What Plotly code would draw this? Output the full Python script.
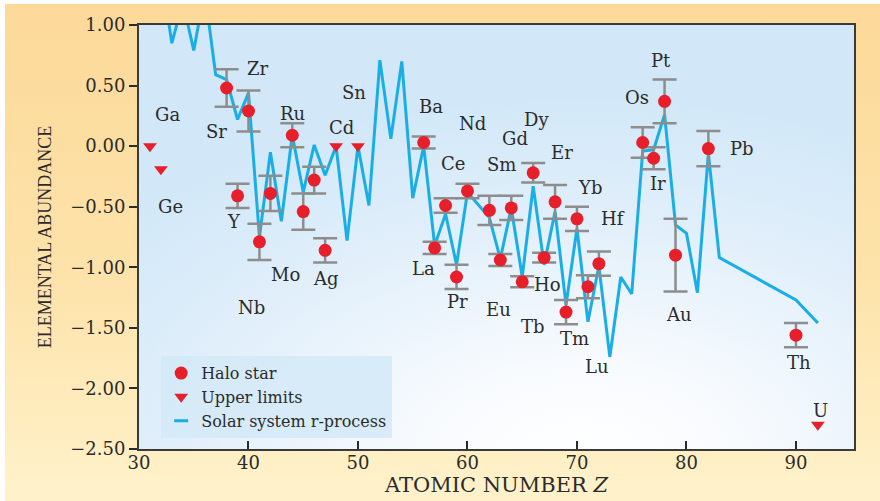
import base64
import plotly.graph_objects as go

# Halo star abundances with their uncertainties
halo_z = [38, 39, 40, 41, 42, 44, 45, 46, 47, 56, 57, 58, 59, 60, 62, 63, 64, 65,
          66, 67, 68, 69, 70, 71, 72, 76, 77, 78, 79, 82, 90]
halo_abund = [0.48, -0.41, 0.29, -0.79, -0.39, 0.09, -0.54, -0.28, -0.86, 0.03, -0.84,
              -0.49, -1.08, -0.37, -0.53, -0.94, -0.51, -1.12, -0.22, -0.92, -0.46,
              -1.37, -0.60, -1.16, -0.97, 0.03, -0.10, 0.37, -0.90, -0.02, -1.56]
halo_err = [0.155, 0.10, 0.17, 0.15, 0.145, 0.10, 0.15, 0.11, 0.10, 0.05, 0.05,
            0.06, 0.10, 0.06, 0.12, 0.05, 0.10, 0.045, 0.08, 0.04, 0.14,
            0.10, 0.10, 0.095, 0.10, 0.125, 0.09, 0.18, 0.30, 0.145, 0.10]

# Upper limits (Ga, Ge, Cd, Sn, U)
limit_z = [31, 32, 48, 50, 92]
limit_abund = [0.0, -0.19, 0.0, 0.0, -2.30]

# Scaled solar-system r-process curve
solar_z = [32, 33, 34, 35, 36, 37, 38, 39, 40, 41, 42, 43, 44, 45, 46, 47, 48, 49,
           50, 51, 52, 53, 54, 55, 56, 57, 58, 59, 60, 62, 63, 64, 65, 66, 67, 68,
           69, 70, 71, 72, 73, 74, 75, 76, 77, 78, 79, 80, 81, 82, 83, 90, 92]
solar_abund = [1.45, 0.85, 1.19, 0.79, 1.28, 0.59, 0.55, 0.22, 0.44, -0.75, -0.05,
               -0.62, 0.09, -0.38, 0.01, -0.24, 0.0, -0.78, 0.0, -0.49, 0.71, 0.06,
               0.70, -0.43, 0.0, -0.82, -0.56, -0.98, -0.38, -0.59, -0.93, -0.51,
               -1.08, -0.33, -0.98, -0.54, -1.31, -0.68, -1.45, -0.99, -1.74, -1.08,
               -1.22, -0.04, -0.03, 0.26, -0.65, -0.72, -1.21, -0.06, -0.92, -1.27,
               -1.46]

# Element symbols and the spot (Z, abundance) where each symbol is written
element_labels = ["Ga", "Ge", "Sr", "Zr", "Y", "Nb", "Mo", "Ru", "Ag", "Cd", "Sn",
                  "Ba", "Nd", "Dy", "Gd", "Ce", "Sm", "Er", "Yb", "Hf", "La", "Pr",
                  "Eu", "Ho", "Tb", "Tm", "Lu", "Pt", "Os", "Ir", "Pb", "Au", "Th", "U"]
label_z = [32.6, 32.85, 37.05, 40.9, 38.65, 40.25, 43.4, 44.0, 47.1, 48.5, 49.6,
           56.7, 60.5, 66.3, 64.3, 58.7, 63.1, 68.6, 71.2, 73.3, 56.0, 59.1,
           62.8, 67.3, 66.0, 69.8, 71.8, 77.7, 75.5, 77.4, 85.1, 79.3, 90.3, 92.2]
label_abund = [0.26, -0.50, 0.12, 0.64, -0.62, -1.33, -1.06, 0.27, -1.09, 0.15, 0.44,
               0.33, 0.19, 0.22, 0.06, -0.14, -0.15, -0.05, -0.34, -0.60, -1.01,
               -1.28, -1.35, -1.14, -1.49, -1.59, -1.82, 0.71, 0.40, -0.31, -0.02,
               -1.39, -1.79, -2.18]

x_ticks = [30, 40, 50, 60, 70, 80, 90]
y_ticks = [1.0, 0.5, 0.0, -0.5, -1.0, -1.5, -2.0, -2.5]

RED = "#e61f2a"
BLUE = "#1aaee6"
GREY = "#8d8d8d"
INK = "#2b2b2b"
SERIF = "DejaVu Serif"

W, H = 880, 501
L, R, T, B = 139, 26, 25, 52
PW, PH = W - L - R, H - T - B


def svg_uri(svg):
    return "data:image/svg+xml;base64," + base64.b64encode(svg.encode()).decode()


paper_svg = (
    '<svg xmlns="http://www.w3.org/2000/svg" width="100" height="100" '
    'preserveAspectRatio="none" viewBox="0 0 100 100">'
    '<defs><linearGradient id="p" x1="0" y1="0" x2="0" y2="1">'
    '<stop offset="0" stop-color="#fcd999"/>'
    '<stop offset="0.55" stop-color="#fde3aa"/>'
    '<stop offset="1" stop-color="#fff2cb"/>'
    '</linearGradient></defs>'
    '<rect width="100" height="100" fill="url(#p)"/></svg>'
)

plot_svg = (
    '<svg xmlns="http://www.w3.org/2000/svg" width="100" height="100" '
    'preserveAspectRatio="none" viewBox="0 0 100 100">'
    '<defs><radialGradient id="b" cx="0.62" cy="1.02" r="0.85" fx="0.62" fy="1.02">'
    '<stop offset="0" stop-color="#ffffff"/>'
    '<stop offset="0.25" stop-color="#f8fbfe"/>'
    '<stop offset="0.7" stop-color="#dfeefa"/>'
    '<stop offset="1" stop-color="#d2e8f8"/>'
    '</radialGradient></defs>'
    '<rect width="100" height="100" fill="url(#b)"/></svg>'
)

fig = go.Figure()

# r-process curve
fig.add_trace(go.Scatter(
    x=solar_z, y=solar_abund, mode="lines",
    line=dict(color=BLUE, width=3), showlegend=False, hoverinfo="skip",
))

# Halo star measurements
fig.add_trace(go.Scatter(
    x=halo_z, y=halo_abund, mode="markers", name="Halo star",
    marker=dict(symbol="circle", size=13, color=RED),
    error_y=dict(type="data", array=halo_err, visible=True,
                 color=GREY, thickness=2.5, width=12),
    legendrank=1,
))

# Upper limits
fig.add_trace(go.Scatter(
    x=limit_z, y=limit_abund, mode="markers", name="Upper limits",
    marker=dict(symbol="triangle-down", size=12, color=RED),
    legendrank=2,
))

# Short dash as legend key for the r-process curve
fig.add_trace(go.Scatter(
    x=[None], y=[None], mode="markers", name="Solar system r-process",
    marker=dict(symbol="line-ew", size=10, color=BLUE,
                line=dict(color=BLUE, width=3)),
    legendrank=3,
))

annotations = [
    dict(x=z, y=a, text=s, xref="x", yref="y", showarrow=False,
         font=dict(family=SERIF, size=18, color=INK))
    for s, z, a in zip(element_labels, label_z, label_abund)
]

fig.update_layout(
    width=W, height=H,
    margin=dict(l=L, r=R, t=T, b=B, pad=0, autoexpand=False),
    paper_bgcolor="#ffffff",
    plot_bgcolor="rgba(0,0,0,0)",
    font=dict(family=SERIF, color=INK),
    images=[
        dict(source=svg_uri(paper_svg), xref="paper", yref="paper",
             x=(5 - L) / PW, y=(H - B - 4) / PH, sizex=(W - 5) / PW,
             sizey=(H - 4) / PH, xanchor="left", yanchor="top",
             sizing="stretch", layer="below"),
        dict(source=svg_uri(plot_svg), xref="paper", yref="paper",
             x=0, y=1, sizex=1, sizey=1, xanchor="left", yanchor="top",
             sizing="stretch", layer="below"),
    ],
    xaxis=dict(
        range=[30, 95.3], tickvals=x_ticks, ticks="inside", ticklen=8,
        tickwidth=2, tickcolor=INK, showline=True, linecolor="#3a3a3a",
        linewidth=2, mirror=True, showgrid=False, zeroline=False,
        automargin=False, ticklabelstandoff=-4,
        tickfont=dict(family=SERIF, size=18, color=INK),
        title=dict(text="ATOMIC NUMBER <i>Z</i>", standoff=0,
                   font=dict(family=SERIF, size=21, color=INK)),
    ),
    yaxis=dict(
        range=[-2.5, 1.0], tickvals=y_ticks, tickformat=".2f", ticks="outside",
        ticklen=8, tickwidth=2, tickcolor=INK, showline=True,
        linecolor="#3a3a3a", linewidth=2, mirror=True, showgrid=False,
        zeroline=False, automargin=False,
        tickfont=dict(family=SERIF, size=18, color=INK),
        title=dict(text="ELEMENTAL ABUNDANCE", standoff=14,
                   font=dict(family="Liberation Serif", size=18, color=INK)),
    ),
    legend=dict(
        x=0.031, y=0.219, xanchor="left", yanchor="top",
        bgcolor="rgba(212,233,247,0.85)", borderwidth=0,
        font=dict(family=SERIF, size=16, color=INK),
        itemwidth=30, tracegroupgap=0,
    ),
    annotations=annotations,
)

fig.write_html("out.html")
